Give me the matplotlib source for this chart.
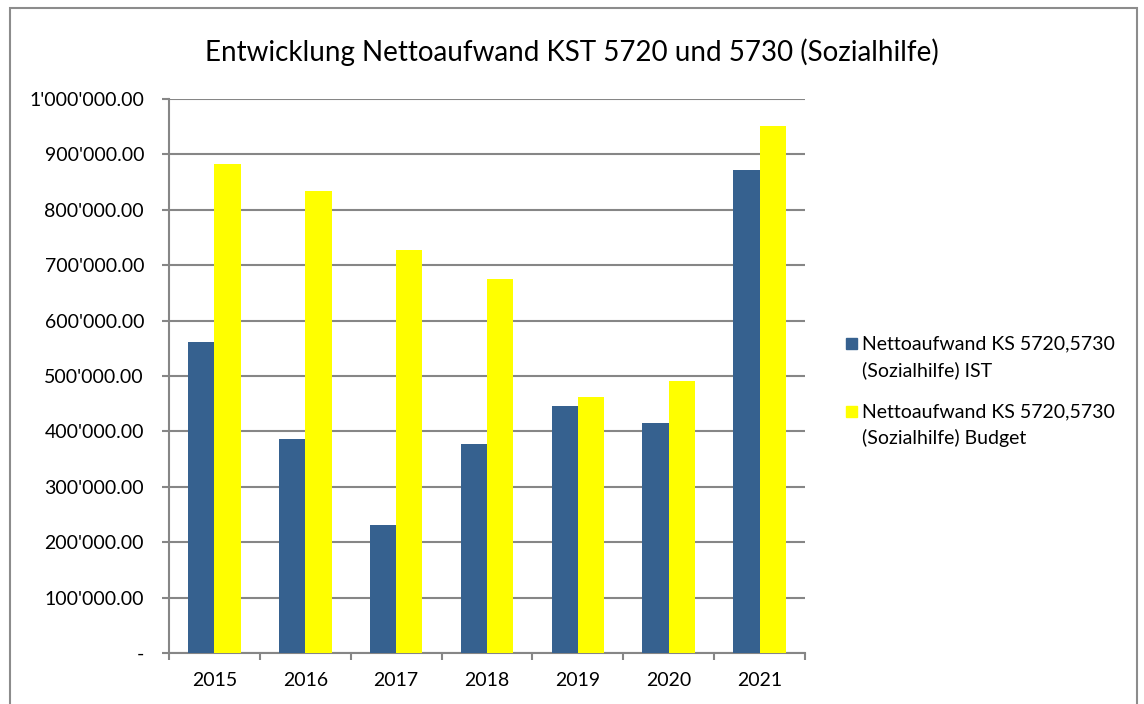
import matplotlib; matplotlib.use("Agg")
import matplotlib.pyplot as plt
import numpy as np
from matplotlib.patches import Rectangle
from matplotlib.ticker import FuncFormatter

years = ["2015", "2016", "2017", "2018", "2019", "2020", "2021"]
ist = [561000, 386000, 231000, 377000, 446000, 415000, 872000]
budget = [883000, 834000, 727000, 675000, 462000, 491000, 951000]
labels = [("Nettoaufwand KS 5720,5730", "(Sozialhilfe) IST"),
          ("Nettoaufwand KS 5720,5730", "(Sozialhilfe) Budget")]

BLUE = "#36618f"; YELLOW = "#ffff00"; GRID = "#868686"
plt.rcParams["font.family"] = ["Lato", "DejaVu Sans"]

def fmt(v, _):
    if v == 0: return "-"
    return f"{v:,.2f}".replace(",", "'")

W, H = 1144, 704
fig = plt.figure(figsize=(W/100, H/100), dpi=100)
ax = fig.add_axes([169/W, 1-653/H, 636/W, 554/H])

x = np.arange(len(years)); w = 0.29
ax.bar(x - w/2, ist, w, color=BLUE, zorder=3)
ax.bar(x + w/2, budget, w, color=YELLOW, zorder=3)

ax.set_xlim(-0.5, len(years) - 0.5)
ax.set_ylim(0, 1000000)
ax.set_yticks(np.arange(0, 1000001, 100000))
ax.yaxis.set_major_formatter(FuncFormatter(fmt))
ax.yaxis.grid(True, color=GRID, lw=1.5, zorder=0)
ax.set_xticks(np.arange(-0.5, len(years), 1.0))
ax.set_xticklabels([])
ax.set_xticks(x, minor=True)
ax.set_xticklabels(years, minor=True)
ax.tick_params(axis="x", which="minor", length=0, pad=14, labelsize=14)
ax.tick_params(axis="x", which="major", length=5, width=1.5, color=GRID)
ax.tick_params(axis="y", length=5, width=1.5, color=GRID, labelsize=14, pad=13)
for s in ["top", "right"]: ax.spines[s].set_visible(False)
for s in ["left", "bottom"]:
    ax.spines[s].set_color(GRID); ax.spines[s].set_linewidth(1.5)

fig.text(0.5, 1-52/H, "Entwicklung Nettoaufwand KST 5720 und 5730 (Sozialhilfe)",
         ha="center", va="center", fontsize=20)

# legend (Excel style: square beside first line of a two-line label)
for i, (col, (l1, l2)) in enumerate(zip([BLUE, YELLOW], labels)):
    y0 = 349 + i*68
    fig.patches.append(Rectangle((846/W, 1-(y0)/H), 11/W, 11/H, transform=fig.transFigure,
                                 color=col))
    fig.text(862/W, 1-y0/H, l1, fontsize=14, va="baseline")
    fig.text(862/W, 1-(y0+27)/H, l2, fontsize=14, va="baseline")

fig.patches.append(Rectangle((10/W, -0.05), 1127/W, 1.05 - 8/H, transform=fig.transFigure,
                             fill=False, edgecolor="#8c8c8c", lw=1.5))
fig.savefig("out.png", dpi=100)
